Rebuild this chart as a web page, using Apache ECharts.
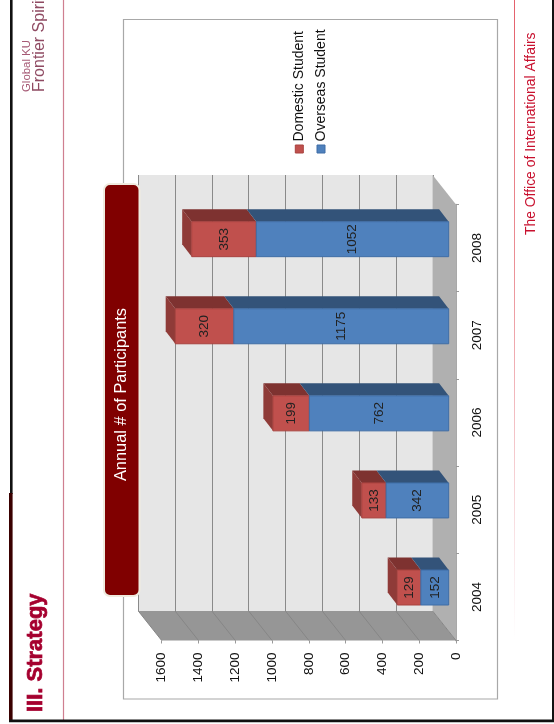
<!DOCTYPE html>
<html>
<head>
<meta charset="utf-8">
<style>html,body{margin:0;padding:0;background:#fff}#c{width:554px;height:724px}</style>
<script src="https://cdn.jsdelivr.net/npm/echarts@6/dist/echarts.min.js"></script>
</head>
<body>
<div id="c"></div>
<script>
const categories = ['2004', '2005', '2006', '2007', '2008'];
const domestic = [129, 133, 199, 320, 353];
const overseas = [152, 342, 762, 1175, 1052];
const seriesNames = ['Domestic Student', 'Overseas Student'];
const valueTicks = [0, 200, 400, 600, 800, 1000, 1200, 1400, 1600];
const chartTitle = 'Annual # of Participants';
const FONT = '"Liberation Sans", Arial, sans-serif';
const R90 = Math.PI / 2;

const chart = echarts.init(document.getElementById('c'), null, {renderer: 'canvas'});

function vText(text, x, y, size, fill, align, extra) {
  return Object.assign({
    type: 'text', x, y, rotation: R90,
    style: Object.assign({text, x: 0, y: 0, align: align || 'center', verticalAlign: 'middle',
      font: size + 'px ' + FONT, fill}, extra && extra.style)
  }, extra && extra.el);
}

const valueAxisBase = {type: 'value', inverse: true, min: 0, max: 1600, interval: 200};

function renderWalls(params, api) {
  const c = params.coordSys;
  const L = c.x, R = c.x + c.width, T = c.y, B = c.y + c.height;
  const dx = -23.4, dy = -29.5;
  const children = [
    {type: 'polygon', shape: {points: [[L + dx, B + dy], [R + dx, B + dy], [R, B], [L, B]]}, style: {fill: '#969696'}},
    {type: 'polygon', shape: {points: [[R + dx, T + dy], [R, T], [R, B], [R + dx, B + dy]]}, style: {fill: '#b0b0b0'}}
  ];
  valueTicks.forEach(v => {
    const x = api.coord([v, 0])[0];
    children.push({type: 'line', shape: {x1: x + dx, y1: B + dy, x2: x, y2: B}, style: {stroke: '#868686', lineWidth: 1}});
  });
  return {type: 'group', children};
}

const BAR_RATIO = 35 / 87.1, DEPTH_X = -9.6, DEPTH_Y = -12.5;
function renderBars(params, api) {
  const i = api.value(0), from = api.value(1), to = api.value(2), series = api.value(3);
  const cy = api.coord([0, i])[1];
  const h = api.size([0, 1])[1] * BAR_RATIO;
  const x0 = api.coord([from, i])[0], x1 = api.coord([to, i])[0];
  const top = cy - h / 2, bot = cy + h / 2;
  const face = series === 0 ? '#c0504d' : '#4f81bd';
  const edge = series === 0 ? '#a8423f' : '#3f6da6';
  const upper = series === 0 ? '#7e3230' : '#335379';
  const children = [
    {type: 'polygon', shape: {points: [[x1, top], [x0, top], [x0 + DEPTH_X, top + DEPTH_Y], [x1 + DEPTH_X, top + DEPTH_Y]]}, style: {fill: upper}},
    {type: 'rect', shape: {x: x1, y: top, width: x0 - x1, height: h}, style: {fill: face, stroke: edge, lineWidth: 1}},
    vText(String(to - from), (x0 + x1) / 2, cy, 13.5, '#222')
  ];
  if (series === 0) {
    children.unshift({type: 'polygon', shape: {points: [[x1, top], [x1 + DEPTH_X, top + DEPTH_Y], [x1 + DEPTH_X, bot + DEPTH_Y], [x1, bot]]}, style: {fill: '#8f3b38'}});
  }
  return {type: 'group', children};
}

const barData = [];
categories.forEach((c, i) => {
  barData.push([i, overseas[i], overseas[i] + domestic[i], 0]);
});
categories.forEach((c, i) => {
  barData.push([i, 0, overseas[i], 1]);
});

const legendSquares = ['#c0504d', '#4f81bd'];
const legendX = [299.3, 321];
const legendGraphics = [];
seriesNames.forEach((n, i) => {
  legendGraphics.push({type: 'rect', z: 50, shape: {x: legendX[i] - 4, y: 145, width: 8, height: 8},
    style: {fill: legendSquares[i], stroke: i ? '#3f6da6' : '#a8423f', lineWidth: 1}});
  legendGraphics.push(Object.assign(vText(n, legendX[i], 141.5, 14, '#111', 'left'), {z: 50}));
});

chart.setOption({
  animation: false,
  backgroundColor: '#fff',
  graphic: {elements: [
    {type: 'rect', z: -20, shape: {x: 123.5, y: 19.5, width: 374, height: 679.5}, style: {fill: '#fff', stroke: '#a8a8a8', lineWidth: 1.2}},
    {type: 'line', z: 60, shape: {x1: 63.5, y1: 0, x2: 63.5, y2: 720}, style: {stroke: '#cf7f90', lineWidth: 1.2}},
    {type: 'rect', z: 60, shape: {x: 514, y: 0, width: 1, height: 640},
      style: {fill: new echarts.graphic.LinearGradient(0, 0, 0, 1, [{offset: 0, color: '#e4606c'}, {offset: 0.4, color: '#eb8d94'}, {offset: 0.9, color: '#fbeef0'}, {offset: 1, color: '#ffffff'}])}},
    {type: 'rect', z: 60, shape: {x: 10, y: 0, width: 2.6, height: 494}, style: {fill: '#111'}},
    {type: 'rect', z: 60, shape: {x: 9, y: 493, width: 3.6, height: 229}, style: {fill: '#3a0000'}},
    {type: 'rect', z: 60, shape: {x: 9, y: 719.5, width: 545, height: 2.8}, style: {fill: '#111'}},
    {type: 'rect', z: 60, shape: {x: 552, y: 0, width: 2, height: 722}, style: {fill: '#111'}},
    vText('III. Strategy', 36, 712, 22, '#a5002f', 'left', {style: {font: 'bold 22px ' + FONT, stroke: '#a5002f', lineWidth: 0.7}, el: {z: 60}}),
    vText('Global KU', 27, 92, 11.4, '#a65a75', 'left', {el: {z: 60}}),
    vText('Frontier Spirit', 39.5, 92, 16, '#8f4a62', 'left', {el: {z: 60}}),
    vText('The Office of International Affairs', 531, 235, 13.9, '#c8102e', 'left', {el: {z: 60}}),
    {type: 'rect', z: 70, shape: {x: 104, y: 184, width: 35.5, height: 412, r: 6}, style: {fill: '#800000', stroke: '#efebdf', lineWidth: 2}},
    vText(chartTitle, 121, 394.5, 16.4, '#fff', 'center', {el: {z: 71}})
  ].concat(legendGraphics)},
  grid: [
    {left: 161.7, right: 98, top: 204.5, bottom: 83.5},
    {left: 138, right: 121, top: 175, bottom: 113, show: true, backgroundColor: '#e6e6e6', borderWidth: 0},
    {left: 156.1, right: 105.3, top: 195.65, bottom: 92.95}
  ],
  xAxis: [
    Object.assign({}, valueAxisBase, {gridIndex: 0, position: 'bottom',
      axisLine: {show: false},
      axisTick: {show: true, length: 3, lineStyle: {color: '#9a9a9a'}},
      axisLabel: {rotate: 90, margin: 12, fontSize: 13.5, fontFamily: FONT, color: '#111', formatter: v => String(v)},
      splitLine: {show: false}}),
    Object.assign({}, valueAxisBase, {gridIndex: 1,
      axisLine: {show: false}, axisTick: {show: false}, axisLabel: {show: false},
      splitLine: {show: true, lineStyle: {color: '#8a8a8a', width: 1}}}),
    Object.assign({}, valueAxisBase, {gridIndex: 2,
      axisLine: {show: false}, axisTick: {show: false}, axisLabel: {show: false}, splitLine: {show: false}})
  ],
  yAxis: [
    {type: 'category', gridIndex: 0, data: categories, position: 'right',
      axisLine: {show: true, onZero: false, lineStyle: {color: '#8c8c8c', width: 1.5}},
      axisTick: {show: true, length: 3, lineStyle: {color: '#9a9a9a'}},
      axisLabel: {rotate: 90, margin: 14, fontSize: 13.5, fontFamily: FONT, color: '#111'},
      splitLine: {show: false}},
    {type: 'category', gridIndex: 1, data: categories, show: false},
    {type: 'category', gridIndex: 2, data: categories, show: false}
  ],
  series: [
    {type: 'custom', name: 'walls', xAxisIndex: 0, yAxisIndex: 0, z: 1, silent: true, clip: false,
      data: [[0, 0]], renderItem: renderWalls},
    {type: 'custom', name: 'bars', xAxisIndex: 2, yAxisIndex: 2, z: 5, silent: true, clip: false,
      encode: {x: [1, 2], y: 0},
      data: barData, renderItem: renderBars}
  ]
});
</script>
</body>
</html>
